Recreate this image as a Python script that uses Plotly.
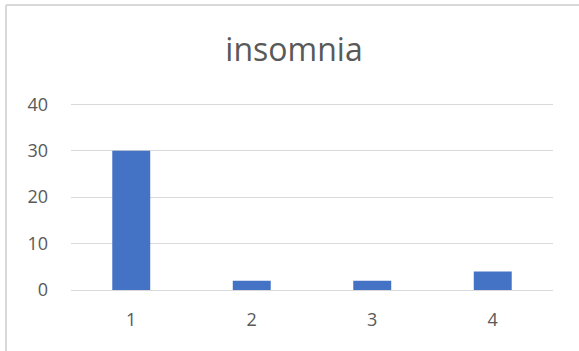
import plotly.graph_objects as go

categories = ["1", "2", "3", "4"]
values = [30, 2, 2, 4]
y_ticks = [0, 10, 20, 30, 40]

TEXT = "#595959"
GRID = "#d9d9d9"
BAR = "#4472c4"
FONT = "Open Sans"

fig = go.Figure(
    go.Bar(
        x=categories,
        y=values,
        marker=dict(color=BAR, line=dict(width=0)),
        width=0.315,
    )
)

fig.update_layout(
    width=579,
    height=351,
    margin=dict(l=71, r=26, t=102, b=61),
    paper_bgcolor="white",
    plot_bgcolor="white",
    showlegend=False,
    font=dict(family=FONT, color=TEXT, size=18),
    title=dict(
        text="insomnia",
        x=294 / 579,
        xanchor="center",
        y=1 - 50 / 351,
        yref="container",
        yanchor="middle",
        font=dict(family=FONT, size=32, color=TEXT),
    ),
)

fig.update_xaxes(
    type="category",
    showgrid=False,
    showline=False,
    zeroline=False,
    ticks="",
    ticklabelstandoff=17,
    tickfont=dict(family=FONT, size=18, color=TEXT),
)
fig.update_yaxes(
    range=[0, 40.5],
    tickvals=y_ticks,
    showgrid=True,
    gridcolor=GRID,
    gridwidth=1,
    zeroline=True,
    zerolinecolor=GRID,
    zerolinewidth=1,
    showline=False,
    ticks="",
    ticklabelstandoff=22,
    tickfont=dict(family=FONT, size=18, color=TEXT),
)

# chart frame: top and left edges of the chart area border
fig.add_shape(type="line", xref="paper", yref="paper",
              x0=-65 / 482, x1=1.2, y0=1 + 97 / 188, y1=1 + 97 / 188,
              line=dict(color=GRID, width=2))
fig.add_shape(type="line", xref="paper", yref="paper",
              x0=-65 / 482, x1=-65 / 482, y0=1 + 97 / 188, y1=-0.5,
              line=dict(color=GRID, width=2))

fig.write_html("out.html")
